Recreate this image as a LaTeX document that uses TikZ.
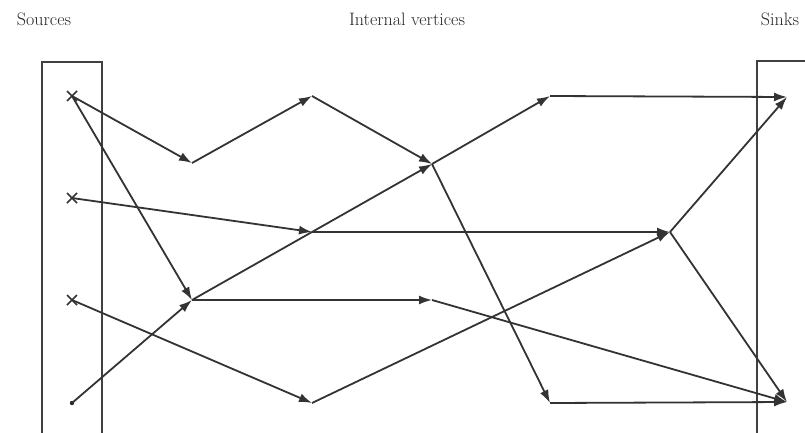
\documentclass[tikz,border=0pt]{standalone}
\usetikzlibrary{arrows.meta}
\begin{document}
\begin{tikzpicture}[x=1pt,y=-1pt,
  edge/.style={line width=1.8pt,draw=black!80,-{Latex[length=13pt,width=9pt]}},
  frame/.style={line width=1.8pt,draw=black!75},
  lbl/.style={font=\fontsize{18}{21}\selectfont,text=black!85,inner sep=0pt,anchor=base},
  cross/.style={line width=1.5pt,draw=black!80}]
\useasboundingbox (0,0) rectangle (805,433);
\clip (0,0) rectangle (805,433);
% column headings
\node[lbl] (hsrc) at (44,26) {Sources};
\node[lbl] (hint) at (407,26) {Internal vertices};
\node[lbl] (hsnk) at (780,26) {Sinks};
% source and sink frames
\draw[frame] (42,445) -- (42,62) -- (102,62) -- (102,445);
\draw[frame] (757,445) -- (757,61) -- (820,61);
% vertices
\coordinate (s1) at (72,96);
\coordinate (s2) at (72,198);
\coordinate (s3) at (72,300);
\coordinate (s4) at (72,403);
\coordinate (a) at (192,163);
\coordinate (b) at (312,96);
\coordinate (c) at (432,164);
\coordinate (d) at (312,232);
\coordinate (e) at (192,300);
\coordinate (f) at (432,300);
\coordinate (g) at (312,403);
\coordinate (h) at (550,96);
\coordinate (i) at (670,232);
\coordinate (j) at (550,403);
\coordinate (t1) at (787,97);
\coordinate (t2) at (787,402);
% source markers
\foreach \p in {s1,s2,s3}
  \draw[cross] (\p) ++(-5,-5) -- ++(10,10) (\p) ++(-5,5) -- ++(10,-10);
\fill[black!85] (s4) circle (2.2pt);
% edges
\draw[edge] (s1) -- (a);
\draw[edge] (s1) -- (e);
\draw[edge] (s2) -- (d);
\draw[edge] (s3) -- (g);
\draw[edge] (s4) -- (e);
\draw[edge] (a) -- (b);
\draw[edge] (b) -- (c);
\draw[edge] (e) -- (c);
\draw[edge] (e) -- (f);
\draw[edge] (d) -- (i);
\draw[edge] (g) -- (i);
\draw[edge] (c) -- (h);
\draw[edge] (c) -- (j);
\draw[edge] (f) -- (t2);
\draw[edge] (h) -- (t1);
\draw[edge] (i) -- (t1);
\draw[edge] (i) -- (t2);
\draw[edge] (j) -- (t2);
\end{tikzpicture}
\end{document}
